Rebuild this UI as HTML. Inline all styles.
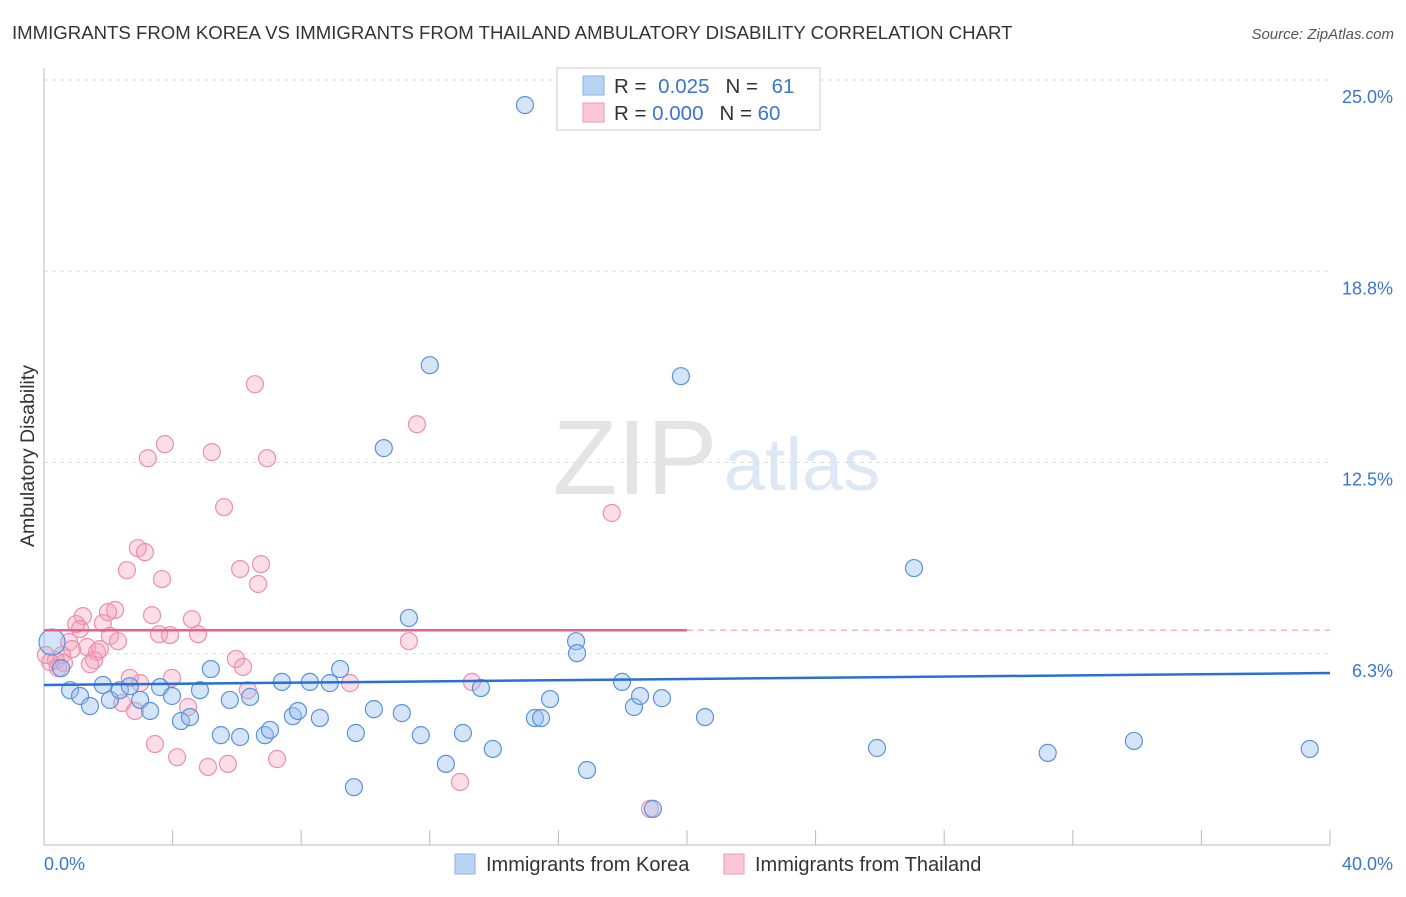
<!DOCTYPE html>
<html><head><meta charset="utf-8"><style>
body{margin:0;background:#fff;font-family:"Liberation Sans",sans-serif;}
svg text{font-family:"Liberation Sans",sans-serif;}
</style></head><body>
<svg width="1406" height="892" viewBox="0 0 1406 892">
<text x="12" y="39" font-size="18.6" fill="#333">IMMIGRANTS FROM KOREA VS IMMIGRANTS FROM THAILAND AMBULATORY DISABILITY CORRELATION CHART</text>
<text x="1394" y="39" font-size="15" fill="#555" font-style="italic" text-anchor="end">Source: ZipAtlas.com</text>
<text transform="translate(34,456) rotate(-90)" font-size="19.5" fill="#333" text-anchor="middle">Ambulatory Disability</text>
<g>
<text x="635" y="494" font-size="106" fill="#e4e4e4" font-family="Liberation Serif" text-anchor="middle">ZIP</text>
<text x="802" y="490" font-size="74" fill="#dce8f6" text-anchor="middle">atlas</text>
</g>
<g id="grid"></g><g id="axes"></g><g id="pts"></g><g id="trend"></g>
<g>
<rect x="557" y="68" width="263" height="62" fill="#fff" stroke="#ccc"/>
<rect x="583" y="76" width="21" height="19" fill="#b9d3f5" stroke="#8ab2e6"/>
<rect x="583" y="103" width="21" height="19" fill="#fbc7d6" stroke="#ee9ab5"/>
<text x="614" y="93" font-size="20.5" fill="#333">R = <tspan fill="#3a75d0" dx="6">0.025</tspan><tspan dx="16" fill="#333">N = </tspan><tspan fill="#3a75d0" dx="8">61</tspan></text>
<text x="614" y="120" font-size="20.5" fill="#333">R = <tspan fill="#3a75d0">0.000</tspan><tspan dx="16" fill="#333">N = </tspan><tspan fill="#3a75d0">60</tspan></text>
</g>
<g>
<rect x="455" y="854" width="20" height="20" fill="#b9d3f5" stroke="#8ab2e6"/>
<text x="486" y="871" font-size="20" fill="#333">Immigrants from Korea</text>
<rect x="724" y="854" width="20" height="20" fill="#fbc7d6" stroke="#ee9ab5"/>
<text x="755" y="871" font-size="20" fill="#333">Immigrants from Thailand</text>
</g>
</svg>
<script>
const yTicks=[6.25,12.5,18.75,25];
const yTickLabels=["6.3%","12.5%","18.8%","25.0%"];
const xTickCount=10;
const xLabels=["0.0%","40.0%"];
const koreaX=[14.96,12.0,19.81,10.57,27.06,11.35,16.55,16.58,0.25,0.53,0.81,1.12,1.43,1.83,2.05,2.36,2.67,2.99,3.30,3.61,3.98,4.26,4.54,4.85,5.19,5.50,5.78,6.10,6.41,6.87,7.03,7.40,7.74,7.90,8.27,8.58,8.89,9.21,9.70,9.64,10.26,11.13,11.72,12.50,13.03,13.59,13.96,15.27,15.46,15.74,16.89,17.98,18.35,18.54,19.22,20.56,25.91,31.22,33.90,39.37,18.94];
const koreaY=[24.18,15.68,15.32,12.97,9.05,7.42,6.66,6.27,6.63,5.78,5.06,4.87,4.54,5.23,4.74,5.06,5.19,4.74,4.38,5.16,4.87,4.05,4.18,5.06,5.75,3.59,4.74,3.53,4.84,3.59,3.76,5.33,4.21,4.38,5.33,4.15,5.29,5.75,3.66,1.89,4.44,4.31,3.59,2.65,3.66,5.13,3.14,4.15,4.15,4.77,2.45,5.33,4.51,4.87,4.80,4.18,3.17,3.01,3.40,3.14,1.18];
const thaiX=[6.56,11.60,3.76,3.23,5.22,6.94,5.60,17.66,2.92,3.14,2.58,6.10,6.75,3.67,6.66,2.21,1.99,1.21,3.36,4.60,1.00,1.83,1.12,3.58,3.92,4.79,2.05,2.30,11.35,0.78,1.34,0.87,1.65,1.74,0.56,1.56,1.43,5.97,6.19,0.37,0.19,2.67,3.98,2.99,9.52,13.31,6.34,2.43,4.48,2.83,3.45,4.14,5.10,5.72,7.25,12.94,18.85,0.62,0.44,0.06];
const thaiY=[15.06,13.75,13.10,12.64,12.84,12.64,11.04,10.85,9.70,9.57,8.98,9.02,9.18,8.69,8.53,7.68,7.61,7.48,7.51,7.38,7.22,7.25,7.06,6.89,6.86,6.89,6.83,6.66,6.66,6.63,6.47,6.40,6.31,6.40,6.21,6.04,5.91,6.08,5.82,6.04,5.98,5.46,5.46,5.29,5.29,5.33,5.06,4.64,4.51,4.38,3.30,2.87,2.55,2.65,2.81,2.06,1.18,5.95,5.78,6.21];
const koreaTrend=[5.23,5.62];
const thaiTrend=[7.02,7.02];
const NS="http://www.w3.org/2000/svg";
const X0=44,X1=1330,Y0=845,YTOP=80;
const sx=v=>X0+v/40*(X1-X0);
const sy=v=>Y0-v/25*(Y0-YTOP);
function mk(tag,attrs,parent){const e=document.createElementNS(NS,tag);for(const k in attrs)e.setAttribute(k,attrs[k]);parent.appendChild(e);return e;}
const grid=document.getElementById('grid'),axes=document.getElementById('axes'),pts=document.getElementById('pts'),trend=document.getElementById('trend');
yTicks.forEach((t,i)=>{
 const l=mk('line',{x1:X0,x2:X1,y1:sy(t),y2:sy(t),stroke:'#ddd','stroke-dasharray':'4,4'},grid);
 
 
 const tx=mk('text',{x:1393,y:sy(t)+23,'font-size':18,fill:'#3a75d0','text-anchor':'end'},axes);
 tx.textContent=yTickLabels[i];
 
 
});
const ax=mk('line',{x1:X0,x2:X1,y1:Y0,y2:Y0,stroke:'#bbb'},axes);


const ay=mk('line',{x1:X0,x2:X0,y1:68,y2:Y0,stroke:'#bbb'},axes);


for(let i=1;i<=xTickCount;i++){
 const v=i*40/xTickCount;
 const t=mk('line',{x1:sx(v),x2:sx(v),y1:Y0-15,y2:Y0,stroke:'#bbb'},axes);
 
 
}
const xl0=mk('text',{x:44,y:870,'font-size':18,fill:'#3a75d0'},axes);xl0.textContent=xLabels[0];


const xl1=mk('text',{x:1393,y:870,'font-size':18,fill:'#3a75d0','text-anchor':'end'},axes);xl1.textContent=xLabels[1];


thaiX.forEach((x,i)=>{
 const c=mk('circle',{cx:sx(x),cy:sy(thaiY[i]),r:8.5,fill:'rgba(244,160,185,0.35)',stroke:'#ec8fae','stroke-width':1.2},pts);
 
 
});
koreaX.forEach((x,i)=>{
 const c=mk('circle',{cx:sx(x),cy:sy(koreaY[i]),r:i===8?13:8.5,fill:'rgba(150,190,240,0.4)',stroke:'#5a92da','stroke-width':1.2},pts);
 
 
});
const kt=mk('line',{x1:sx(0),x2:sx(40),y1:sy(koreaTrend[0]),y2:sy(koreaTrend[1]),stroke:'#2a6fd6','stroke-width':2.5},trend);


const tt=mk('line',{x1:sx(0),x2:sx(20),y1:sy(thaiTrend[0]),y2:sy(thaiTrend[0]+(thaiTrend[1]-thaiTrend[0])/2),stroke:'#e9608a','stroke-width':2.5},trend);


const td=mk('line',{x1:sx(20),x2:sx(40),y1:sy(thaiTrend[0]+(thaiTrend[1]-thaiTrend[0])/2),y2:sy(thaiTrend[1]),stroke:'#f2b3c6','stroke-width':1.5,'stroke-dasharray':'6,5'},trend);


</script>
</body></html>
